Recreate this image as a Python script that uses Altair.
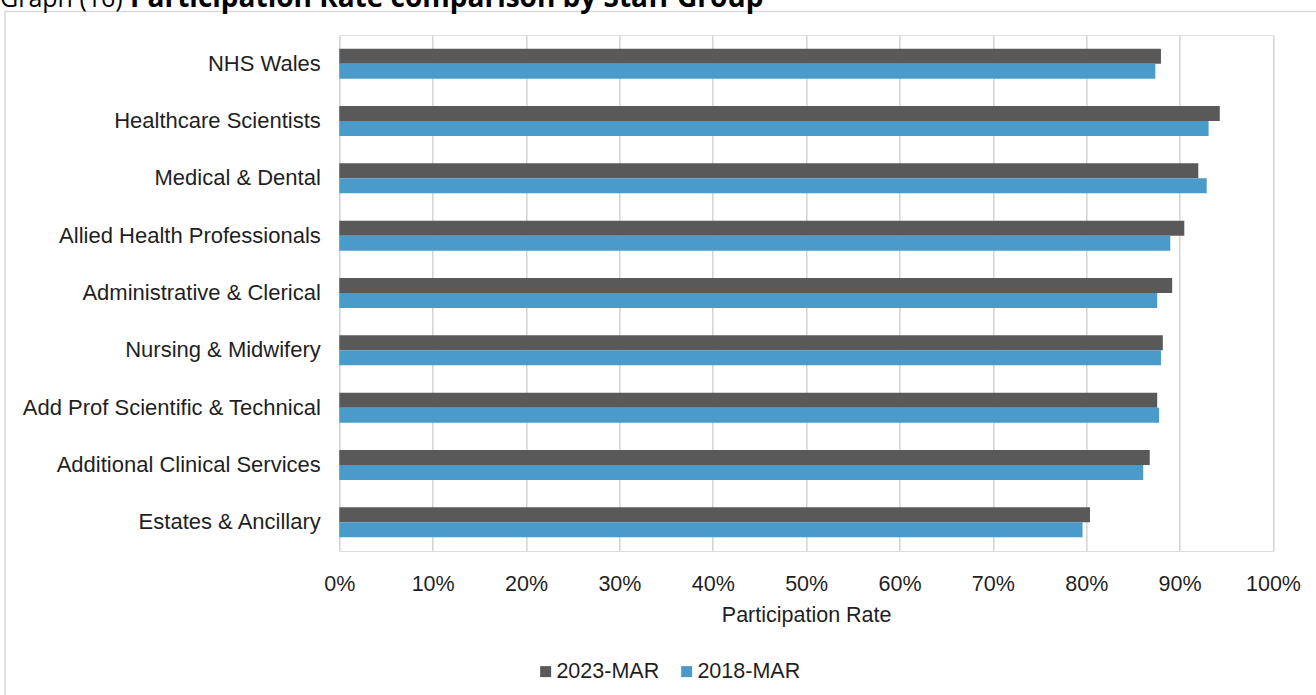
import altair as alt
import pandas as pd

groups = [
    "NHS Wales",
    "Healthcare Scientists",
    "Medical & Dental",
    "Allied Health Professionals",
    "Administrative & Clerical",
    "Nursing & Midwifery",
    "Add Prof Scientific & Technical",
    "Additional Clinical Services",
    "Estates & Ancillary",
]
series = ["2023-MAR", "2018-MAR"]
rate_2023 = [88.0, 94.3, 92.0, 90.5, 89.2, 88.2, 87.6, 86.8, 80.4]
rate_2018 = [87.4, 93.1, 92.9, 89.0, 87.6, 88.0, 87.8, 86.1, 79.6]
colors = ["#595959", "#4A9BCA"]
x_ticks = [i / 10 for i in range(11)]

rows = []
for g, a, b in zip(groups, rate_2023, rate_2018):
    rows.append({"Group": g, "Period": series[0], "Rate": a / 100})
    rows.append({"Group": g, "Period": series[1], "Rate": b / 100})
df = pd.DataFrame(rows)

FONT = "Liberation Sans"
TXT = "#1f1f1f"
PL, PT, PW, PH = 339.3, 35, 933.7, 516

bars = alt.Chart(df).mark_bar().encode(
    y=alt.Y("Group:N", sort=groups, title=None,
            scale=alt.Scale(paddingInner=0.477, paddingOuter=0.2385),
            axis=alt.Axis(labelFont=FONT, labelFontSize=22, labelColor=TXT,
                          labelPadding=19, ticks=False, domain=False,
                          labelLimit=400)),
    yOffset=alt.YOffset("Period:N", sort=series,
                        scale=alt.Scale(paddingInner=0, paddingOuter=0)),
    x=alt.X("Rate:Q", title="Participation Rate",
            scale=alt.Scale(domain=[0, 1], nice=False),
            axis=alt.Axis(values=x_ticks, format=".0%", labelFont=FONT,
                          labelFontSize=21.5, labelColor=TXT, labelPadding=22,
                          labelFlush=False,
                          ticks=False, tickSize=0, domain=False,
                          grid=True, gridColor="#D6D6D6", gridWidth=1.6,
                          titleFont=FONT, titleFontSize=21.5, titleColor=TXT,
                          titleFontWeight="normal", titlePadding=10)),
    color=alt.Color("Period:N", sort=series,
                    scale=alt.Scale(domain=series, range=colors),
                    legend=alt.Legend(title=None, orient="none",
                                      direction="horizontal",
                                      legendX=195.6, legendY=625.5,
                                      symbolType="square", symbolSize=121,
                                      symbolStrokeWidth=0,
                                      labelFont=FONT, labelFontSize=21.5,
                                      labelColor=TXT, labelOffset=0,
                                      columnPadding=16, padding=0)),
)

one = pd.DataFrame({"a": [0]})
frame = alt.Chart(one).mark_rect(fill=None, stroke="#D9D9D9", strokeWidth=1.5).encode(
    x=alt.value(5 - PL), x2=alt.value(1330 - PL),
    y=alt.value(11.5 - PT), y2=alt.value(710 - PT),
)
t1 = alt.Chart(one).mark_text(text="Graph (16) ", font="Open Sans", fontSize=25,
                              align="left", baseline="alphabetic",
                              color="#000000").encode(
    x=alt.value(0 - PL), y=alt.value(6.5 - PT))
t2 = alt.Chart(one).mark_text(text="Participation Rate comparison by Staff Group",
                              font="Open Sans", fontSize=28, fontWeight="bold",
                              align="left", baseline="alphabetic",
                              color="#000000").encode(
    x=alt.value(130 - PL), y=alt.value(6.5 - PT))

chart = alt.layer(frame, bars, t1, t2).properties(
    width=PW, height=PH,
    padding={"left": PL, "top": PT, "right": 1316 - PL - PW, "bottom": 695 - PT - PH},
    autosize=alt.AutoSizeParams(type="none"),
).configure_view(stroke=None).configure(background="#FFFFFF")

chart.save("out.html", embed_options={"renderer": "svg", "actions": False})
